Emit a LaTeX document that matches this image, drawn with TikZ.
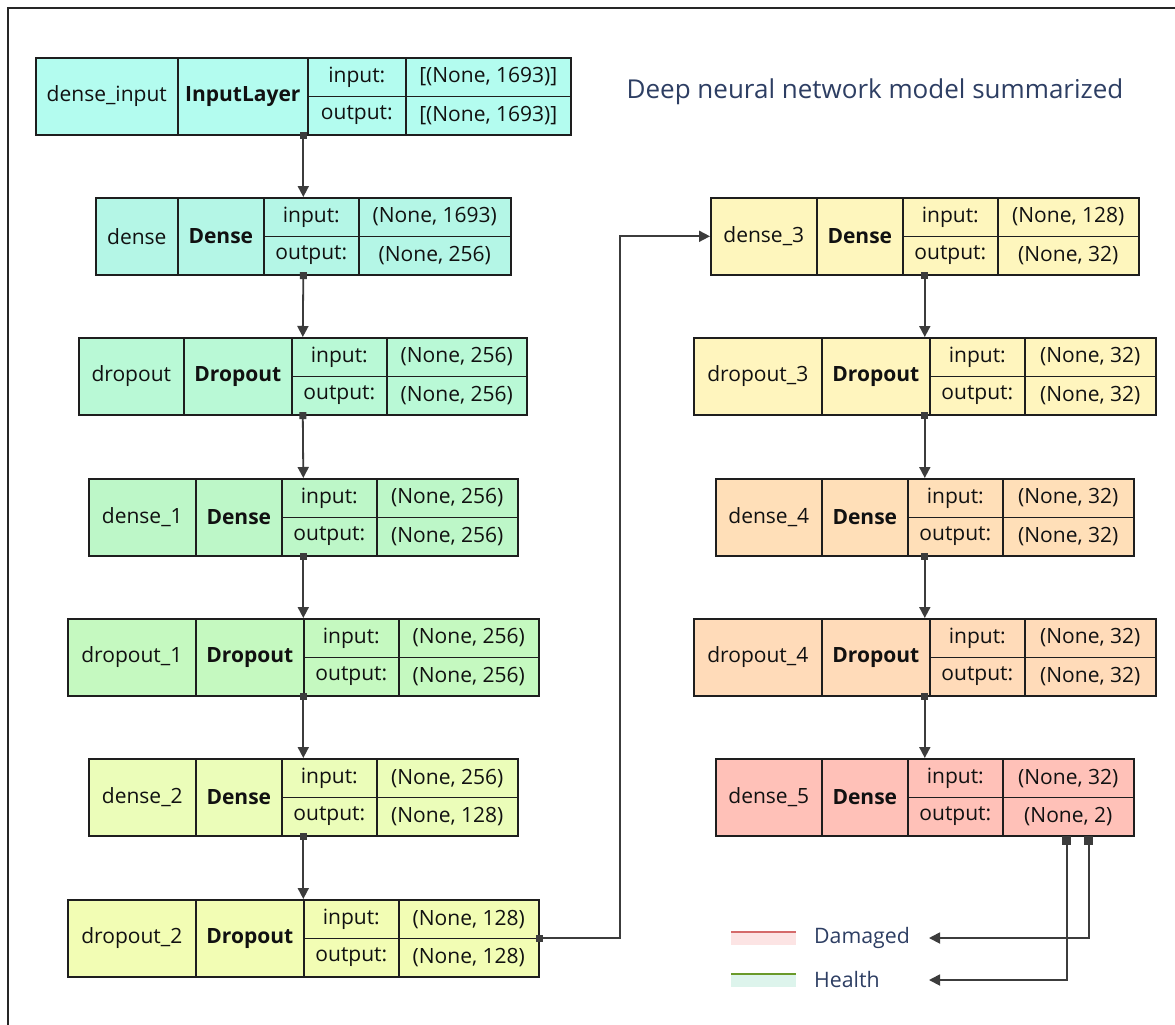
\documentclass[tikz,border=0pt]{standalone}
\usepackage{fontspec}
\setmainfont{Open Sans}
\usetikzlibrary{arrows.meta}
\definecolor{boxline}{HTML}{1E1E1E}
\definecolor{arrowc}{HTML}{3C3C3C}
\definecolor{txt}{HTML}{111111}
\definecolor{titlec}{HTML}{2D3E63}
\definecolor{cdenseinput}{HTML}{B3FCEF}
\definecolor{cdense}{HTML}{B4F6E6}
\definecolor{cdropout}{HTML}{B9F9D6}
\definecolor{cdense1}{HTML}{BDF7C8}
\definecolor{cdropout1}{HTML}{C5F9C0}
\definecolor{cdense2}{HTML}{EBFDB9}
\definecolor{cdropout2}{HTML}{F2FDB4}
\definecolor{cdense3}{HTML}{FEF6BD}
\definecolor{cdropout3}{HTML}{FFF5BE}
\definecolor{cdense4}{HTML}{FFDFB8}
\definecolor{cdropout4}{HTML}{FFDBB9}
\definecolor{cdense5}{HTML}{FFC1B8}
\definecolor{dmgfill}{HTML}{FCE4E4}
\definecolor{dmgline}{HTML}{D46A6A}
\definecolor{hfill}{HTML}{DDF4EC}
\definecolor{hline}{HTML}{6A9A2A}
\tikzset{
  x=1pt, y=-1pt,
  box/.style={draw=boxline, line width=1.6pt, inner sep=0pt, anchor=north west, minimum height=77pt},
  cell/.style={draw=boxline, line width=1.6pt, inner sep=0pt, anchor=north west, text=txt, font=\fontsize{21}{24}\selectfont},
  typecell/.style={cell, font=\fontsize{21}{24}\selectfont\bfseries},
  flow/.style={draw=arrowc, line width=1.8pt, {Square[length=7pt,width=7pt]}-{Triangle[length=11pt,width=11pt]}, shorten <=-3.5pt},
  outflow/.style={draw=arrowc, line width=1.8pt, {Square[length=9pt,width=9pt]}-{Triangle[length=11pt,width=11pt]}, shorten <=-4.5pt},
  legtext/.style={anchor=west, inner sep=0pt, text=titlec, font=\fontsize{21.3}{25}\selectfont},
  frame/.style={draw=black!85, line width=2pt},
}
\newcommand\mklayer[9]{%
  \node[cell, fill=c#1, minimum width={(#3-#2)*1pt}, minimum height=77pt] (#1-name) at (#2,#7) {#8};
  \node[typecell, fill=c#1, minimum width={(#4-#3)*1pt}, minimum height=77pt] (#1-type) at (#3,#7) {#9};
  \node[cell, fill=c#1, minimum width={(#5-#4)*1pt}, minimum height=38.5pt] (#1-inl) at (#4,#7) {input:};
  \node[cell, fill=c#1, minimum width={(#6-#5)*1pt}, minimum height=38.5pt] (#1-inv) at (#5,#7) {\vin};
  \node[cell, fill=c#1, minimum width={(#5-#4)*1pt}, minimum height=38.5pt] (#1-outl) at (#4,#7+38.5) {output:};
  \node[cell, fill=c#1, minimum width={(#6-#5)*1pt}, minimum height=38.5pt] (#1-outv) at (#5,#7+38.5) {\vout};
  \node[box, minimum width={(#6-#2)*1pt}] (#1) at (#2,#7) {};
}
\begin{document}
\begin{tikzpicture}
\useasboundingbox (0,0) rectangle (1175,1025);
\fill[white] (0,0) rectangle (1175,1025);
\draw[frame] (8,1030) -- (8,8) -- (1180,8);

\node[text=titlec, font=\fontsize{26}{30}\selectfont, inner sep=0pt] (title) at (875,92) {Deep neural network model summarized};

\def\vin{[(None, 1693)]}\def\vout{[(None, 1693)]}
\mklayer{denseinput}{35}{177}{307}{405}{570}{57}{dense\_input}{InputLayer}
\def\vin{(None, 1693)}\def\vout{(None, 256)}
\mklayer{dense}{95}{177}{263}{358}{510}{197}{dense}{Dense}
\def\vin{(None, 256)}\def\vout{(None, 256)}
\mklayer{dropout}{78}{183}{291}{386}{526}{337}{dropout}{Dropout}
\mklayer{dense1}{88}{195}{281}{376}{517}{478}{dense\_1}{Dense}
\mklayer{dropout1}{67}{195}{303}{398}{538}{618}{dropout\_1}{Dropout}
\def\vin{(None, 256)}\def\vout{(None, 128)}
\mklayer{dense2}{88}{195}{281}{376}{517}{758}{dense\_2}{Dense}
\def\vin{(None, 128)}\def\vout{(None, 128)}
\mklayer{dropout2}{67}{195}{303}{398}{538}{899}{dropout\_2}{Dropout}
\def\vin{(None, 128)}\def\vout{(None, 32)}
\mklayer{dense3}{710}{816}{902}{997}{1138}{197}{dense\_3}{Dense}
\def\vin{(None, 32)}\def\vout{(None, 32)}
\mklayer{dropout3}{693}{821}{929}{1024}{1155}{337}{dropout\_3}{Dropout}
\mklayer{dense4}{715}{821}{907}{1002}{1133}{478}{dense\_4}{Dense}
\mklayer{dropout4}{693}{821}{929}{1024}{1155}{618}{dropout\_4}{Dropout}
\def\vin{(None, 32)}\def\vout{(None, 2)}
\mklayer{dense5}{715}{821}{907}{1002}{1133}{758}{dense\_5}{Dense}

\draw[flow] (denseinput.south) -- (dense.north);
\draw[flow] (dense.south) -- (dropout.north);
\draw[flow] (dropout.south) -- (dense1.north);
\draw[flow] (dense1.south) -- (dropout1.north);
\draw[flow] (dropout1.south) -- (dense2.north);
\draw[flow] (dense2.south) -- (dropout2.north);
\draw[flow] (dropout2.east) -- ++(80,0) |- (dense3.west);
\draw[flow] (dense3.south) -- (dropout3.north);
\draw[flow] (dropout3.south) -- (dense4.north);
\draw[flow] (dense4.south) -- (dropout4.north);
\draw[flow] (dropout4.south) -- (dense5.north);

% legend
\fill[dmgfill] (731,931) rectangle (796,945);
\draw[dmgline, line width=2pt] (731,932) -- (796,932);
\fill[hfill] (731,973) rectangle (796,987);
\draw[hline, line width=2pt] (731,974) -- (796,974);
\node[legtext] (damaged) at (814,938) {Damaged};
\node[legtext] (health) at (814,980) {Health};

\coordinate (legtip) at (929,938);
\coordinate (outh) at ([xshift=-68pt,yshift=-4pt]dense5.south east);
\coordinate (outd) at ([xshift=-46pt,yshift=-4pt]dense5.south east);
\draw[outflow] (outd) |- (legtip |- damaged.east);
\draw[outflow] (outh) |- (legtip |- health.east);
\end{tikzpicture}
\end{document}
